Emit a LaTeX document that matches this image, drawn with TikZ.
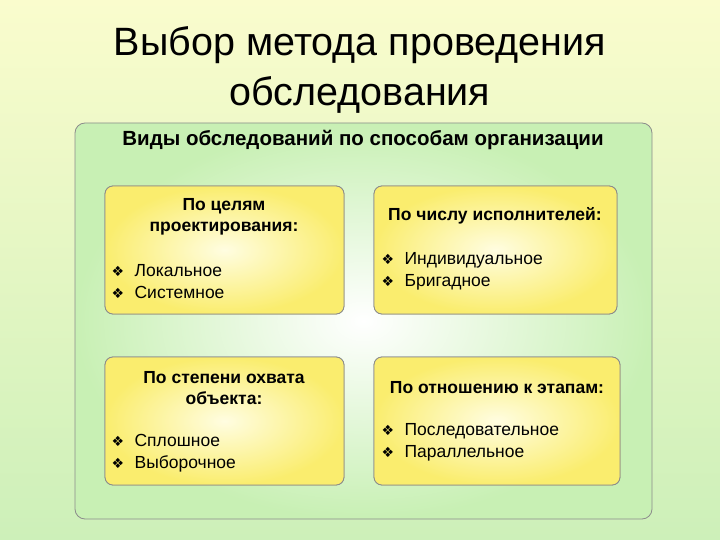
\documentclass[tikz,border=0pt]{standalone}
\usepackage{fontspec}
\setmainfont{Liberation Sans}
\newfontfamily\djvfont{DejaVu Sans}
\usetikzlibrary{shadings}
\definecolor{bgtop}{RGB}{250,252,205}
\definecolor{bgbot}{RGB}{205,240,185}
\definecolor{panelout}{RGB}{200,240,180}
\definecolor{boxin}{RGB}{255,253,225}
\definecolor{boxout}{RGB}{250,237,110}
\newcommand{\bl}{{\djvfont\fontsize{14}{14}\selectfont ❖}\hspace{0.6em}}
\begin{document}
\begin{tikzpicture}[x=1pt,y=-1pt,
  panel/.style={draw=black!45,line width=0.8pt,rounded corners=10pt},
  card/.style={draw=black!45,line width=0.8pt,rounded corners=8pt,inner color=boxin,outer color=boxout},
  hd/.style={font=\bfseries\fontsize{17.5}{21}\selectfont,align=center},
  it/.style={font=\fontsize{17.5}{22}\selectfont,align=left,anchor=west}]
\useasboundingbox (0,0) rectangle (720,540);
\shade[top color=bgtop,bottom color=bgbot] (0,0) rectangle (720,540);
\node[font=\fontsize{39.5}{50}\selectfont,align=center] (title) at (360,70) {Выбор метода проведения\\обследования};
\shade[inner color=white,outer color=panelout,rounded corners=10pt] (75,123) rectangle (652,519);
\draw[panel] (75,123) rectangle (652,519);
\node[font=\bfseries\fontsize{20.5}{24}\selectfont] (head) at (363,140) {Виды обследований по способам организации};
\shade[card] (105,186) rectangle (344,314); \draw[card,fill=none] (105,186) rectangle (344,314);
\shade[card] (374,186) rectangle (617,314); \draw[card,fill=none] (374,186) rectangle (617,314);
\shade[card] (105,357) rectangle (344,485); \draw[card,fill=none] (105,357) rectangle (344,485);
\shade[card] (374,357) rectangle (620,485); \draw[card,fill=none] (374,357) rectangle (620,485);
\node[hd] (h1) at (224,217) {По целям\\проектирования:};
\node[it] (i1) at (108,282) {\bl Локальное\\\bl Системное};
\node[hd] (h2) at (495,216) {По числу исполнителей:};
\node[it] (i2) at (378,271) {\bl Индивидуальное\\\bl Бригадное};
\node[hd] (h3) at (224,388) {По степени охвата\\объекта:};
\node[it] (i3) at (108,453) {\bl Сплошное\\\bl Выборочное};
\node[hd] (h4) at (497,388) {По отношению к этапам:};
\node[it] (i4) at (378,442) {\bl Последовательное\\\bl Параллельное};
\end{tikzpicture}
\end{document}
